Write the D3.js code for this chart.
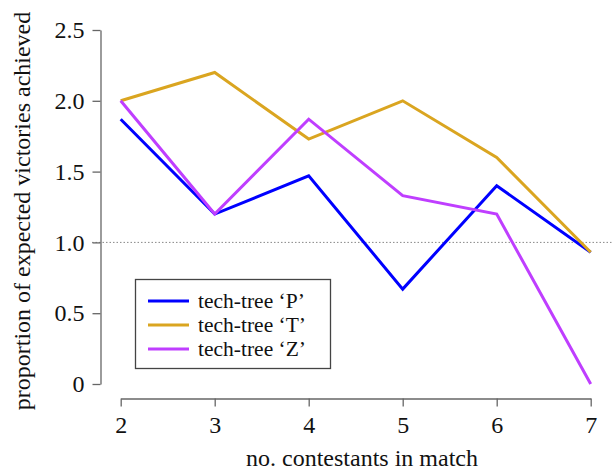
<!DOCTYPE html>
<html>
<head>
<meta charset="utf-8">
<script src="https://cdn.jsdelivr.net/npm/d3@7"></script>
<style>
  body { margin: 0; background: #fff; }
  svg { font-family: "Liberation Serif", "Times New Roman", serif; }
</style>
</head>
<body>
<svg id="chart" width="612" height="470"></svg>
<script>
// number of contestants in a match
const contestants = [2, 3, 4, 5, 6, 7];

// proportion of expected victories per tech-tree
const techP = [1.87, 1.2, 1.47, 0.67, 1.4, 0.93];
const techT = [2.0, 2.2, 1.73, 2.0, 1.6, 0.93];
const techZ = [2.0, 1.2, 1.87, 1.33, 1.2, 0.0];

const seriesNames = ["tech-tree \u2018P\u2019", "tech-tree \u2018T\u2019", "tech-tree \u2018Z\u2019"];
const seriesColors = ["#0000ff", "#daa520", "#bf3eff"];

const yTicks = [0, 0.5, 1.0, 1.5, 2.0, 2.5];
const yTickLabels = ["0", "0.5", "1.0", "1.5", "2.0", "2.5"];

const series = [techP, techT, techZ].map((vals, i) => ({
  name: seriesNames[i],
  color: seriesColors[i],
  values: vals.map((v, j) => ({ x: contestants[j], y: v }))
}));

const svg = d3.select('#chart');

let x = d3.scaleLinear().domain([2, 7]).range([120.7, 590.7]);
let y = d3.scaleLinear().domain([0, 2.5]).range([384, 30]);

// reference line at 1.0
svg.append('line')
  .attr('x1', 92).attr('x2', 612)
  .attr('y1', y(1)).attr('y2', y(1))
  .attr('stroke', '#888')
  .attr('stroke-width', 1)
  .attr('stroke-dasharray', '1.5,2');

// y axis
let yAxis = svg.append('g')
  .attr('transform', 'translate(100.5,0)')
  .call(d3.axisLeft(y).tickValues(yTicks).tickFormat((d, i) => yTickLabels[i]).tickSize(8).tickSizeOuter(0).tickPadding(8));

// x axis
let xAxis = svg.append('g')
  .attr('transform', 'translate(0,398.5)')
  .call(d3.axisBottom(x).tickValues(contestants).tickFormat(d3.format('d')).tickSize(8).tickSizeOuter(0).tickPadding(9));

[yAxis, xAxis].forEach(g => {
  g.attr('font-family', null).attr('font-size', null);
  g.selectAll('path, line').attr('stroke', '#666').attr('stroke-width', 1.3);
  g.selectAll('text')
    .attr('fill', '#111')
    .style('font-family', '"Liberation Serif", serif')
    .style('font-size', '24px');
});

// lines
let line = d3.line().x(d => x(d.x)).y(d => y(d.y));

svg.selectAll('.series')
  .data(series)
  .enter().append('path')
  .attr('class', 'series')
  .attr('fill', 'none')
  .attr('stroke', d => d.color)
  .attr('stroke-width', 3)
  .attr('stroke-linejoin', 'miter')
  .attr('d', d => line(d.values));

// axis titles
svg.append('text')
  .attr('x', 362).attr('y', 466)
  .attr('text-anchor', 'middle')
  .attr('fill', '#111')
  .style('font-size', '24px')
  .text('no. contestants in match');

svg.append('text')
  .attr('transform', 'translate(30,211) rotate(-90)')
  .attr('text-anchor', 'middle')
  .attr('fill', '#111')
  .style('font-size', '24px')
  .text('proportion of expected victories achieved');

// legend
let legend = svg.append('g');
legend.append('rect')
  .attr('x', 135.5).attr('y', 279.5)
  .attr('width', 195).attr('height', 89)
  .attr('fill', '#fff')
  .attr('stroke', '#444')
  .attr('stroke-width', 1.3);

let item = legend.selectAll('.item')
  .data(series)
  .enter().append('g')
  .attr('class', 'item')
  .attr('transform', (d, i) => 'translate(0,' + (301 + i * 24) + ')');

item.append('line')
  .attr('x1', 148).attr('x2', 189)
  .attr('stroke', d => d.color)
  .attr('stroke-width', 3);

item.append('text')
  .attr('x', 198).attr('dy', '0.33em')
  .attr('fill', '#111')
  .style('font-size', '21.5px')
  .text(d => d.name);
</script>
</body>
</html>
